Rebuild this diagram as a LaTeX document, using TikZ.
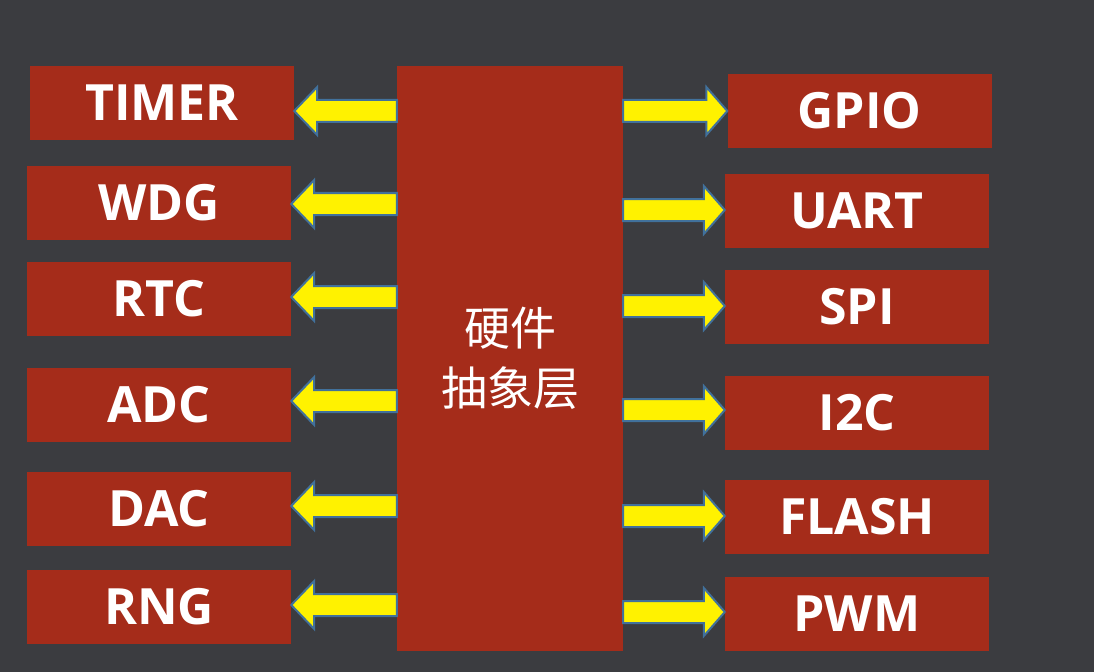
\documentclass[tikz,border=0pt]{standalone}
\usepackage{fontspec}
\usetikzlibrary{calc}
\newfontfamily\etiquette{Open Sans}
\newfontfamily\cjk{Noto Sans CJK SC}
\definecolor{fond}{HTML}{3B3C40}
\definecolor{rougeBrique}{HTML}{A52C1A}
\definecolor{bordFleche}{HTML}{41719C}

\begin{document}
\begin{tikzpicture}[x=1bp,y=-1bp]
    \tikzstyle{rougeBoite}=[fill=rougeBrique, inner sep=0pt, minimum width=264bp, minimum height=74bp, text=white, font=\etiquette\bfseries\fontsize{50bp}{60bp}\selectfont]
    \tikzstyle{flecheJaune}=[fill=yellow, draw=bordFleche, line width=2bp, line join=miter]

    \fill [fond] (0,0) rectangle (1094,672);
    % couche centrale
    \node [rougeBoite, minimum width=226bp, minimum height=585bp, font=\cjk\fontsize{46bp}{60bp}\selectfont, align=center] (hal) at (510,358.5) {硬件\\抽象层};

    % peripheriques a gauche
    \foreach \nom/\x/\y/\fy in {TIMER/162/103/111, WDG/159/203/204, RTC/159/299/297, ADC/159/405/401, DAC/159/509/506, RNG/159/607/605} {
        \node [rougeBoite] (\nom) at (\x,\y) {\nom};
        \coordinate (q) at (0,\fy);
        \coordinate (t) at (hal.west |- q);
        \coordinate (h) at (\nom.east |- q);
        \draw [flecheJaune] ($(t)+(0,-11)$) -- ($(h)!23bp!(t)+(0,-11)$) -- ($(h)!23bp!(t)+(0,-24)$) -- (h) -- ($(h)!23bp!(t)+(0,24)$) -- ($(h)!23bp!(t)+(0,11)$) -- ($(t)+(0,11)$) -- cycle;
    }

    % peripheriques a droite
    \foreach \nom/\x/\y/\fy in {GPIO/859.5/111/111, UART/857/211/210, SPI/857/307/306, I2C/857/413/410, FLASH/857/517/516, PWM/857/614/612} {
        \node [rougeBoite] (\nom) at (\x,\y) {\nom};
        \coordinate (q) at (0,\fy);
        \coordinate (t) at (hal.east |- q);
        \coordinate (h) at (\nom.west |- q);
        \draw [flecheJaune] ($(t)+(0,-11)$) -- ($(h)!21bp!(t)+(0,-11)$) -- ($(h)!21bp!(t)+(0,-24)$) -- (h) -- ($(h)!21bp!(t)+(0,24)$) -- ($(h)!21bp!(t)+(0,11)$) -- ($(t)+(0,11)$) -- cycle;
    }
\end{tikzpicture}
\end{document}
